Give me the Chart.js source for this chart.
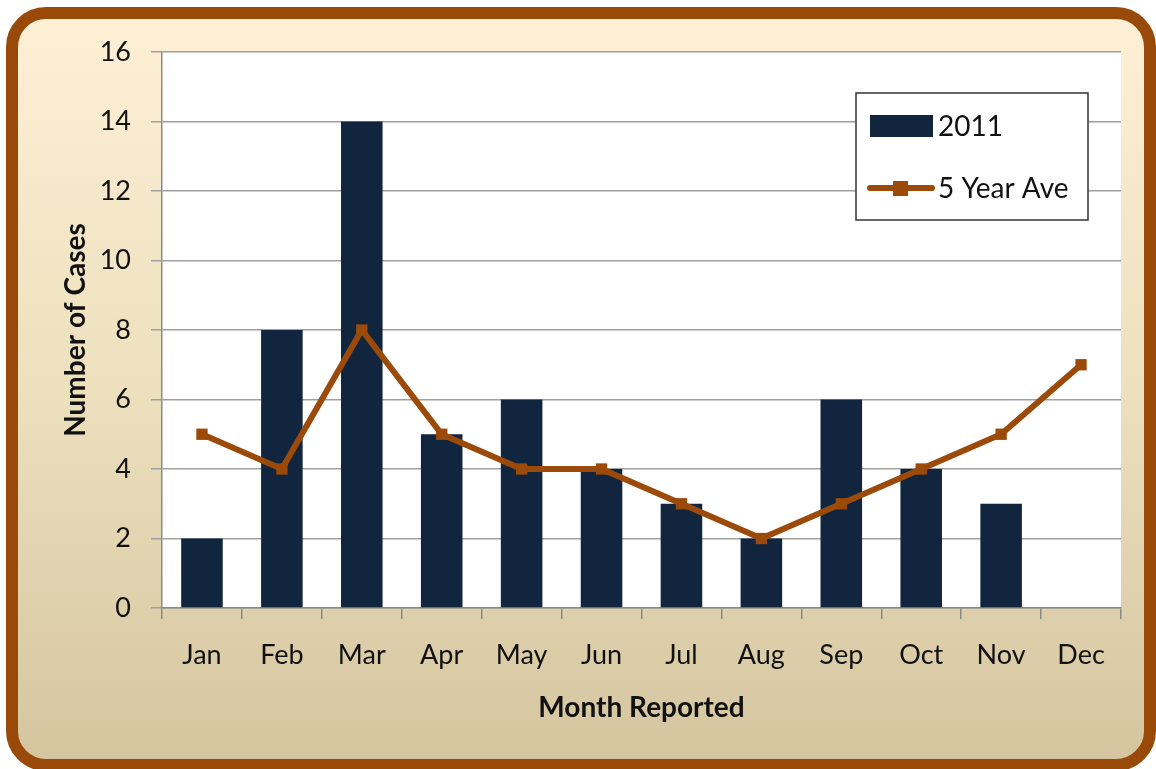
<!DOCTYPE html>
<html><head><meta charset="utf-8">
<script src="https://cdn.jsdelivr.net/npm/chart.js@4.4.1/dist/chart.umd.min.js"></script>
<style>html,body{margin:0;padding:0;background:#fff;}#wrap{width:1156px;height:769px;}</style>
</head><body><div id="wrap"><canvas id="c" width="1156" height="769"></canvas></div>
<script>
const months = ['Jan','Feb','Mar','Apr','May','Jun','Jul','Aug','Sep','Oct','Nov','Dec'];
const cases2011 = [2,8,14,5,6,4,3,2,6,4,3,0];
const fiveYearAve = [5,4,8,5,4,4,3,2,3,4,5,7];
const yTicks = [0,2,4,6,8,10,12,14,16];

const FONT = 'Lato, "Open Sans", sans-serif';
const BAR = '#12253f';
const LINE = '#9b4a0a';

const bgPlugin = {
  id:'bg',
  beforeDraw(chart){
    const ctx = chart.ctx;
    ctx.save();
    const x=12,y=13,w=1138,h=752,r=34;
    const g = ctx.createLinearGradient(0,y,0,y+h);
    g.addColorStop(0,'#fdf0d6');
    g.addColorStop(0.5,'#ede0bd');
    g.addColorStop(1,'#d4c59f');
    ctx.beginPath();
    ctx.roundRect(x,y,w,h,r);
    ctx.fillStyle=g; ctx.fill();
    ctx.lineWidth=12; ctx.strokeStyle='#9a4a08'; ctx.stroke();
    const a = chart.chartArea;
    ctx.fillStyle='#ffffff';
    ctx.fillRect(a.left,a.top,a.right-a.left,a.bottom-a.top);
    ctx.restore();
  }
};

const legendPlugin = {
  id:'customLegend',
  afterDraw(chart){
    const ctx = chart.ctx;
    const barDs = chart.data.datasets.find(d=>d.type==='bar');
    const lineDs = chart.data.datasets.find(d=>d.type==='line');
    ctx.save();
    ctx.fillStyle='#fff';
    ctx.fillRect(856,93,232,127);
    ctx.lineWidth=1.5; ctx.strokeStyle='#333';
    ctx.strokeRect(856,93,232,127);
    ctx.fillStyle=BAR;
    ctx.fillRect(870,115,63,22);
    ctx.strokeStyle=LINE; ctx.lineWidth=6; ctx.lineCap='round';
    ctx.beginPath(); ctx.moveTo(870,188); ctx.lineTo(932,188); ctx.stroke();
    ctx.fillStyle=LINE; ctx.fillRect(893,181,15,15);
    ctx.fillStyle='#111'; ctx.font='28px '+FONT; ctx.textBaseline='middle';
    ctx.fillText(barDs.label,938,127);
    ctx.fillText(lineDs.label,938,189);
    ctx.restore();
  }
};

new Chart(document.getElementById('c'),{
  type:'bar',
  data:{
    labels:months,
    datasets:[
      {type:'line',label:'5 Year Ave',data:fiveYearAve,borderColor:LINE,backgroundColor:LINE,borderWidth:6,
       pointStyle:'rect',pointRadius:8,pointBackgroundColor:LINE,pointBorderWidth:0,tension:0,order:0},
      {type:'bar',label:'2011',data:cases2011,backgroundColor:BAR,barPercentage:0.52,categoryPercentage:1,order:1}
    ]
  },
  options:{
    responsive:false,animation:false,
    layout:{padding:{left:55,right:35,top:52,bottom:40}},
    plugins:{legend:{display:false},tooltip:{enabled:false}},
    scales:{
      x:{
        grid:{drawOnChartArea:false,offset:true,color:'#8a8a8a',lineWidth:1.5,tickLength:11},
        border:{color:'#8a8a8a',width:1.5},
        ticks:{color:'#111',font:{family:FONT,size:27},padding:20},
        title:{display:true,text:'Month Reported',color:'#111',font:{family:FONT,size:28,weight:'bold'},padding:{top:8}},
        afterFit(s){s.height=121;}
      },
      y:{
        min:0,max:16,
        afterBuildTicks(s){s.ticks=yTicks.map(v=>({value:v}));},
        grid:{color:'#a0a0a0',lineWidth:1.5,tickLength:11},
        border:{color:'#8a8a8a',width:1.5},
        ticks:{color:'#111',font:{family:FONT,size:27},padding:20},
        title:{display:true,text:'Number of Cases',color:'#111',font:{family:FONT,size:28,weight:'bold'},padding:{bottom:10}},
        afterFit(s){s.width=107;}
      }
    }
  },
  plugins:[bgPlugin,legendPlugin]
});
</script></body></html>
